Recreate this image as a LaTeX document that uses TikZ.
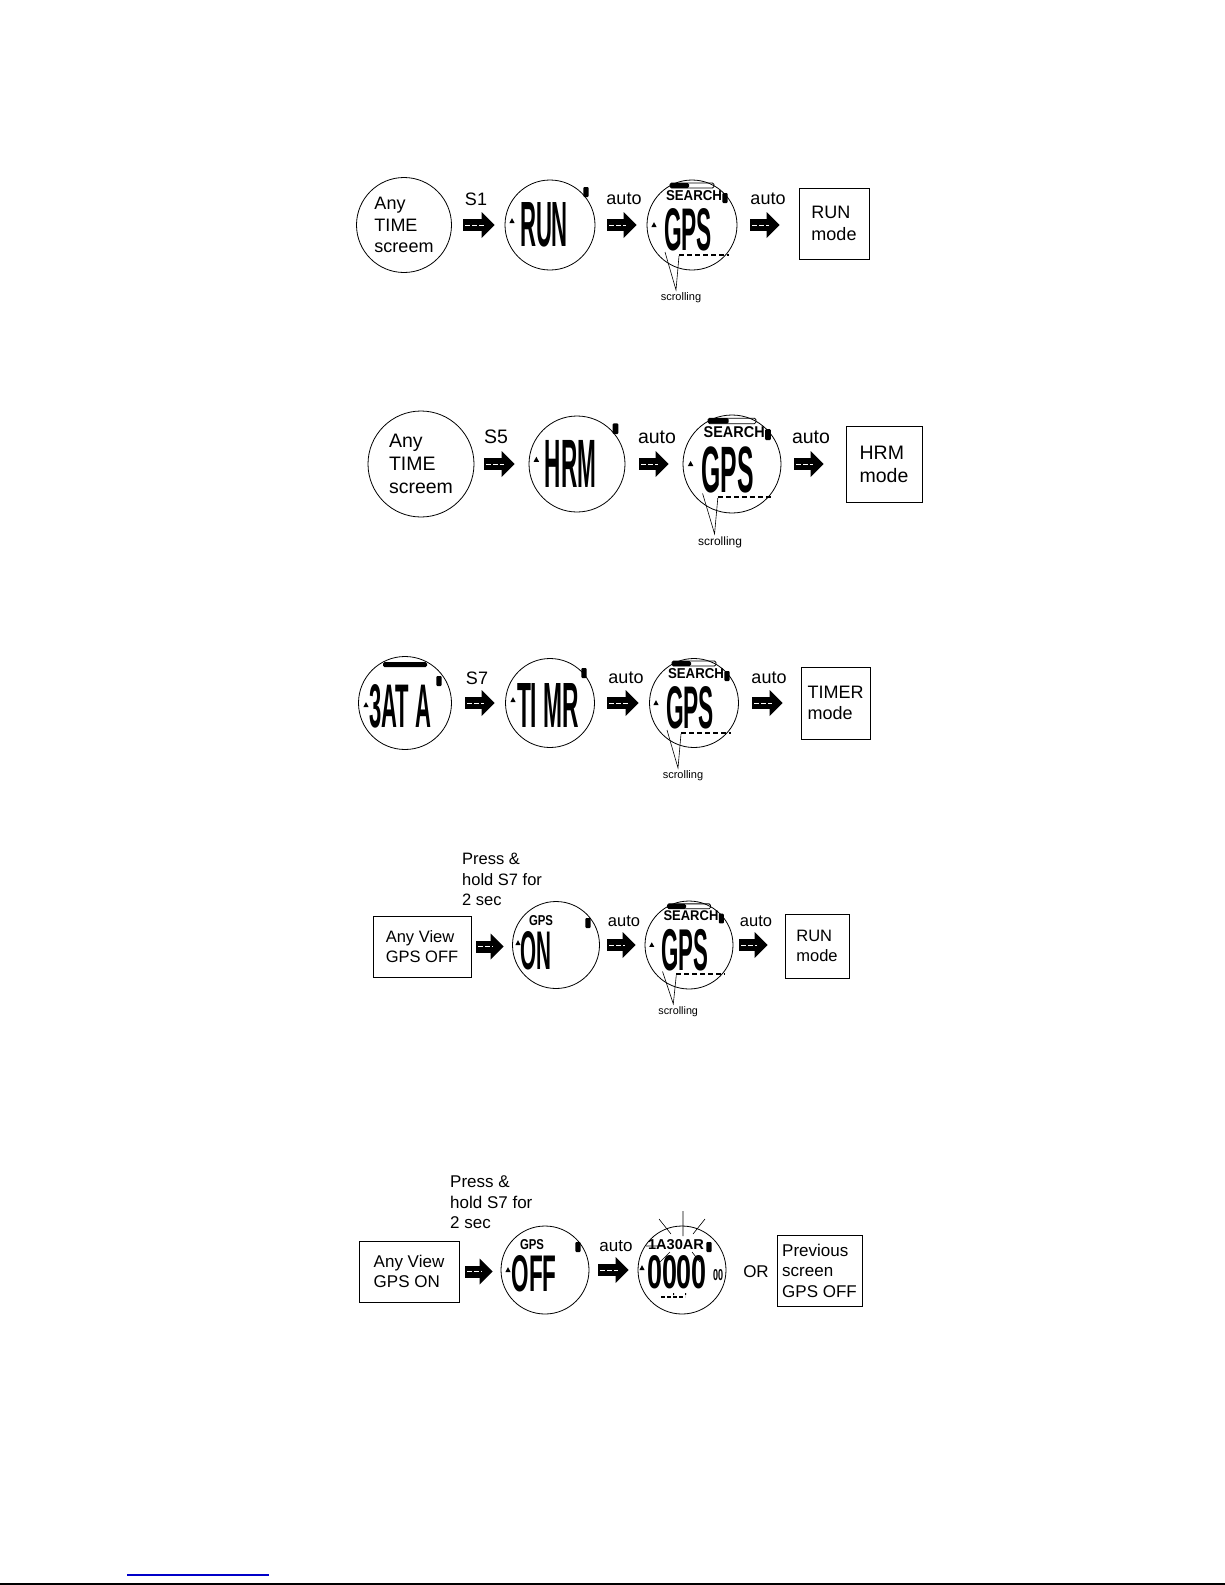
\documentclass[tikz,border=0pt]{standalone}
\usepackage{fontspec}
\setmainfont{Liberation Sans}
\usepackage{graphicx}
\usetikzlibrary{arrows.meta}
\newcommand\lcdtxt[3]{\resizebox{#1pt}{#2pt}{\bfseries #3}}
\newcommand\fatarr[4]{%
  \draw[fatshaft, shorten <=#3pt, shorten >=#4pt] (#1.east) -- (#1.east -| #2.west);
  \draw[fatstreak, shorten <=#3pt+2pt, shorten >=#4pt+11pt] (#1.east) -- (#1.east -| #2.west);
}
\newcommand\lcdtri[2]{\fill (#1-2.6,#2+2) -- (#1+2.6,#2+2) -- (#1,#2-2.8) -- cycle;}
\newcommand\lcdbatt[2]{\fill[rounded corners=1pt] (#1-2.6,#2-5) rectangle (#1+2.6,#2+5);}
\newcommand\gpsscreen[4]{%
\begin{scope}[shift={#2}, scale=#3, transform shape]
 \draw[line width=0.8pt, rounded corners=1.5pt] (-22,-42) rectangle (22,-37);
 \fill[rounded corners=1.5pt] (-22,-42) rectangle (-3,-37);
 \node[lcd] (#1-s) at (2,-29.5) {\lcdtxt{56}{10}{SEARCH}};
 \lcdbatt{33}{-27}
 \lcdtri{-38}{0}
 \node[lcd] (#1-t) at (-4,5) {\lcdtxt{48}{42}{GPS}};
 \draw[scrolldash] (-13,30) -- (37,30);
 \node[lcd, font=\fontsize{11}{11}\selectfont] (#1-l) at (-11,#4) {scrolling};
 \coordinate (#1-p) at (-16,#4-8);
 \draw[callout] (-27,27) -- (#1-p) -- (-13,31);
\end{scope}}
\begin{document}
\begin{tikzpicture}[x=1pt,y=-1pt,
  watch/.style={circle, draw, line width=0.8pt, inner sep=0pt, minimum size=#1},
  flowbox/.style={draw, line width=0.9pt, inner sep=0pt, align=left},
  lbl/.style={inner sep=0pt},
  lcd/.style={inner sep=0pt},
  fatshaft/.style={line width=12pt, -{Triangle[width=26pt,length=13pt,line width=0pt]}},
  fatstreak/.style={white, line width=0.8pt, dash pattern=on 5pt off 2pt},
  scrolldash/.style={line width=2pt, dash pattern=on 5pt off 3pt},
  callout/.style={line width=0.6pt},
  fa/.style={font=\fontsize{18}{21.5}\selectfont},
  fb/.style={font=\fontsize{19.5}{23}\selectfont},
  fc/.style={font=\fontsize{16.5}{20.5}\selectfont},
  fd/.style={font=\fontsize{17}{20.5}\selectfont}]
\useasboundingbox (0,0) rectangle (1225,1585);

% ---------- Row 1 ----------
\node[watch=95pt, align=left, fa] (a1) at (404,225) {Any\\TIME\\screem};
\node[watch=90pt] (a2) at (550,225) {};
\node[watch=90pt] (a3) at (692,225) {};
\node[flowbox, fa, minimum width=70pt, minimum height=71pt] (a4) at (834,223.5) {RUN\\mode};
\node[lbl, fa] (a1l) at (476,199) {S1};
\node[lbl, fa] (a2l) at (624,199) {auto};
\node[lbl, fa] (a3l) at (768,199) {auto};
\fatarr{a1}{a2}{11.5}{10}
\fatarr{a2}{a3}{12}{10}
\fatarr{a3}{a4}{13}{19}
\begin{scope}[shift={(550,225)}]
 \lcdtri{-38}{-4}
 \node[lcd] (a2t) at (-6,0) {\lcdtxt{48}{44}{RUN}};
 \lcdbatt{36}{-33}
\end{scope}
\gpsscreen{ag}{(692,225)}{1}{73}

% ---------- Row 2 ----------
\node[watch=106pt, align=left, fb] (b1) at (421,464) {Any\\TIME\\screem};
\node[watch=96pt] (b2) at (577,464) {};
\node[watch=98pt] (b3) at (732,464) {};
\node[flowbox, fb, minimum width=76pt, minimum height=76pt] (b4) at (884,464) {HRM\\mode};
\node[lbl, fb] (b1l) at (496,437) {S5};
\node[lbl, fb] (b2l) at (657,437) {auto};
\node[lbl, fb] (b3l) at (811,437) {auto};
\fatarr{b1}{b2}{9.5}{14}
\fatarr{b2}{b3}{14}{14}
\fatarr{b3}{b4}{13}{22}
\begin{scope}[shift={(577,464)}, scale=1.07, transform shape]
 \lcdtri{-38}{-4}
 \node[lcd] (b2t) at (-6,0) {\lcdtxt{48}{44}{HRM}};
 \lcdbatt{36}{-33}
\end{scope}
\gpsscreen{bg}{(732,464)}{1.09}{72}

% ---------- Row 3 ----------
\node[watch=93pt] (c1) at (405,703) {};
\node[watch=89pt] (c2) at (550,703) {};
\node[watch=89pt] (c3) at (694,703) {};
\node[flowbox, fa, minimum width=69pt, minimum height=72pt] (c4) at (835.5,703) {TIMER\\mode};
\node[lbl, fa] (c1l) at (477,678) {S7};
\node[lbl, fa] (c2l) at (626,678) {auto};
\node[lbl, fa] (c3l) at (769,678) {auto};
\fatarr{c1}{c2}{13.5}{10.5}
\fatarr{c2}{c3}{12.5}{10.5}
\fatarr{c3}{c4}{13.5}{18}
\begin{scope}[shift={(405,703)}]
 \fill[rounded corners=1.5pt] (-22,-41) rectangle (22,-36);
 \lcdtri{-39}{2}
 \node[lcd] (c1t) at (-5,3) {\lcdtxt{62}{43}{3AT A}};
 \lcdbatt{34}{-22}
\end{scope}
\begin{scope}[shift={(550,703)}]
 \lcdtri{-37}{-3}
 \node[lcd] (c2t) at (-2,2) {\lcdtxt{62}{44}{TI MR}};
 \lcdbatt{34}{-30}
\end{scope}
\gpsscreen{cg}{(694,703)}{1}{73}

% ---------- Row 4 ----------
\node[lbl, fc, align=left, anchor=north west] (d0) at (462,853) {Press \&\\hold S7 for\\2 sec};
\node[flowbox, fc, minimum width=98pt, minimum height=61pt] (d1) at (422,946.5) {Any View\\GPS OFF};
\node[watch=87pt] (d2) at (556,945) {};
\node[watch=88pt] (d3) at (689,945) {};
\node[flowbox, fc, minimum width=64pt, minimum height=64pt] (d4) at (817,946) {RUN\\mode};
\node[lbl, fc] (d2l) at (624,921) {auto};
\node[lbl, fc] (d3l) at (756,921) {auto};
\fatarr{d1}{d2}{5}{8.5}
\fatarr{d2}{d3}{7.5}{9}
\fatarr{d3}{d4}{6}{17}
\begin{scope}[shift={(556,945)}]
 \node[lcd] (d2s) at (-15,-24) {\lcdtxt{24}{10}{GPS}};
 \lcdbatt{32}{-22}
 \lcdtri{-38}{-2}
 \node[lcd] (d2t) at (-20,5.5) {\lcdtxt{31}{38}{ON}};
\end{scope}
\gpsscreen{dg}{(689,945)}{0.98}{68}

% ---------- Row 5 ----------
\node[lbl, fd, align=left, anchor=north west] (e0) at (450,1176) {Press \&\\hold S7 for\\2 sec};
\node[flowbox, fd, minimum width=100pt, minimum height=61pt] (e1) at (409,1271.5) {Any View\\GPS ON};
\node[watch=88pt] (e2) at (545,1270) {};
\node[watch=88pt] (e3) at (682,1270) {};
\node[flowbox, fd, minimum width=85pt, minimum height=71pt] (e4) at (819.5,1270.5) {Previous\\screen\\GPS OFF};
\node[lbl, fd] (e2l) at (616,1246) {auto};
\node[lbl, fd] (e3l) at (756,1272) {OR};
\fatarr{e1}{e2}{6}{8}
\fatarr{e2}{e3}{9}{9}
\begin{scope}[shift={(545,1270)}]
 \node[lcd] (e2s) at (-13,-25) {\lcdtxt{24}{10}{GPS}};
 \lcdbatt{33}{-23}
 \lcdtri{-37}{0}
 \node[lcd] (e2t) at (-11,3.5) {\lcdtxt{45}{36}{OFF}};
\end{scope}
\begin{scope}[shift={(682,1270)}]
 \node[lcd] (e3s) at (-6,-25) {\lcdtxt{56}{10}{1A30AR}};
 \lcdbatt{27}{-23}
 \lcdtri{-40}{-2}
 \node[lcd] (e3t) at (-5,2.5) {\lcdtxt{60}{33}{0000}};
 \node[lcd] (e3u) at (36,5) {\lcdtxt{10}{11}{00}};
 \draw[line width=2pt, dash pattern=on 4pt off 2pt] (-21,27) -- (3,27);
 \fill (-9,23) rectangle (-8,25) (3,23) rectangle (4,25);
 \draw[line width=0.6pt] (1,-59) -- (1,-34)
   (-23,-51) -- (-11,-36) (23,-51) -- (11,-36)
   (-36,-24) -- (-18,-24)
   (-12,-18) -- (-22,-8) (10,-18) -- (18,-8);
\end{scope}

% ---------- footer ----------
\coordinate (fbl) at (127,1575);
\coordinate (fbr) at (269,1575);
\draw[line width=1.3pt, color={rgb,255:red,0;green,0;blue,200}] (fbl) -- (fbr);
\coordinate (fkl) at (0,1583.5);
\coordinate (fkr) at (1225,1583.5);
\draw[line width=2pt] (fkl) -- (fkr);
\end{tikzpicture}
\end{document}
